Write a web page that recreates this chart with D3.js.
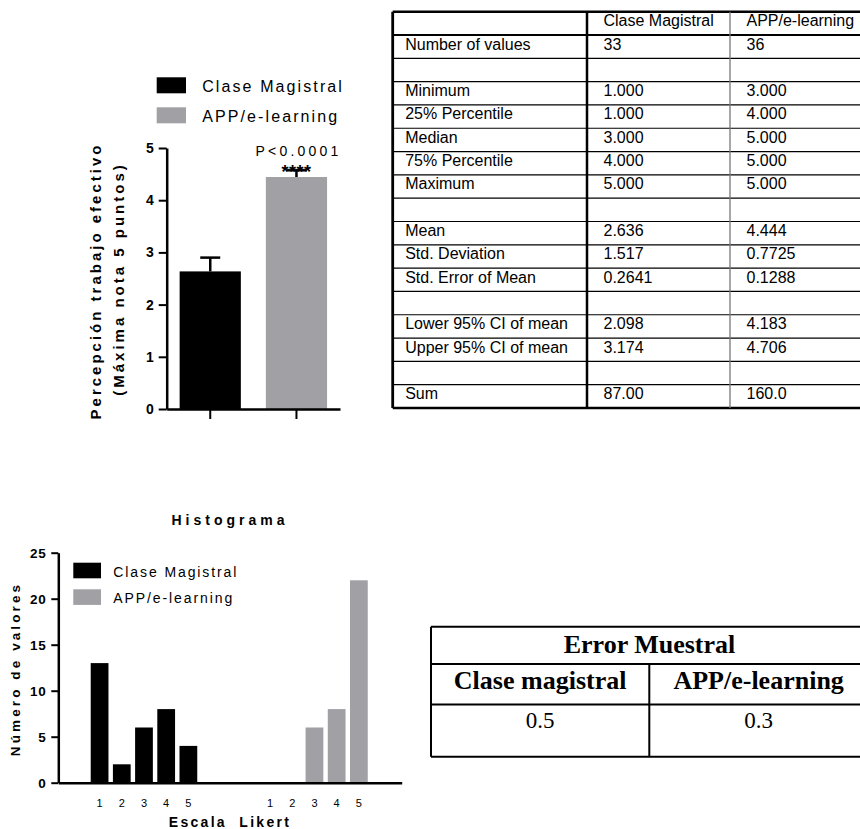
<!DOCTYPE html>
<html lang="es">
<head>
<meta charset="UTF-8">
<title>Clase Magistral vs APP/e-learning</title>
<script src="https://d3js.org/d3.v7.min.js"></script>
<style>
  body { margin: 0; background: #fff; }
  svg { display: block; }
  .sans { font-family: "Liberation Sans", Arial, sans-serif; }
  .serif { font-family: "Liberation Serif", "Times New Roman", serif; }
</style>
</head>
<body>
<div id="chart"></div>
<script>
// ---- data ----
const groups = ["Clase Magistral", "APP/e-learning"];
const means = [2.636, 4.444];
const sems = [0.2641, 0.1288];
const meanTicks = [0, 1, 2, 3, 4, 5];

const statLabels = ["Number of values", "", "Minimum", "25% Percentile", "Median", "75% Percentile", "Maximum", "",
  "Mean", "Std. Deviation", "Std. Error of Mean", "", "Lower 95% CI of mean", "Upper 95% CI of mean", "", "Sum"];
const statClase = ["33", "", "1.000", "1.000", "3.000", "4.000", "5.000", "",
  "2.636", "1.517", "0.2641", "", "2.098", "3.174", "", "87.00"];
const statApp = ["36", "", "3.000", "4.000", "5.000", "5.000", "5.000", "",
  "4.444", "0.7725", "0.1288", "", "4.183", "4.706", "", "160.0"];

const likert = [1, 2, 3, 4, 5];
const histClase = [13, 2, 6, 8, 4];
const histApp = [0, 0, 6, 8, 22];
const histTicks = [0, 5, 10, 15, 20, 25];

const errorGroups = ["Clase magistral", "APP/e-learning"];
const errorValues = ["0.5", "0.3"];

const colors = ["#000000", "#a0a0a5"];

const width = 860, height = 829;
const svg = d3.select("#chart").append("svg")
  .attr("width", width)
  .attr("height", height);

// ---- top left: mean bars with SEM ----
const x = d3.scaleBand().domain(groups).range([166.7, 340]).paddingInner(0.29).paddingOuter(0.15);
const y = d3.scaleLinear().domain([0, 5]).range([409, 148]);

svg.append("g").selectAll("rect")
  .data(groups)
  .join("rect")
  .attr("x", d => x(d))
  .attr("y", (d, i) => y(means[i]))
  .attr("width", x.bandwidth())
  .attr("height", (d, i) => y(0) - y(means[i]))
  .attr("fill", (d, i) => colors[i]);

const err = svg.append("g").attr("stroke", "#000").attr("stroke-width", 2.5);
groups.forEach((g, i) => {
  const cx = x(g) + x.bandwidth() / 2;
  err.append("line").attr("x1", cx).attr("x2", cx).attr("y1", y(means[i])).attr("y2", y(means[i] + sems[i]));
  err.append("line").attr("x1", cx - 10).attr("x2", cx + 10).attr("y1", y(means[i] + sems[i])).attr("y2", y(means[i] + sems[i]));
});

const yAx = svg.append("g")
  .attr("transform", "translate(166.7,0)")
  .call(d3.axisLeft(y).tickValues(meanTicks).tickFormat(d3.format("d")).tickSize(8).tickSizeOuter(0).tickPadding(5));
const xAx = svg.append("g")
  .attr("transform", "translate(0,409)")
  .call(d3.axisBottom(x).tickFormat("").tickSize(10).tickSizeOuter(0));
[yAx, xAx].forEach(a => {
  a.select(".domain").attr("stroke-width", 2.5);
  a.selectAll(".tick line").attr("stroke-width", 2);
});
yAx.selectAll("text").attr("class", "sans").style("font-size", "14px").style("font-weight", "bold").attr("fill", "#000");

svg.append("text").attr("class", "sans")
  .attr("x", x(groups[1]) + x.bandwidth() / 2 + 2).attr("y", 156)
  .attr("text-anchor", "middle")
  .style("font-size", "14px").style("letter-spacing", "3.2px")
  .text("P<0.0001");
svg.append("text").attr("class", "sans")
  .attr("x", x(groups[1]) + x.bandwidth() / 2).attr("y", 178)
  .attr("text-anchor", "middle")
  .style("font-size", "18px").style("font-weight", "bold").style("letter-spacing", "0.5px")
  .text("****");

svg.append("text").attr("class", "sans")
  .attr("transform", "translate(101,281) rotate(-90)")
  .attr("text-anchor", "middle")
  .style("font-size", "15px").style("font-weight", "bold").style("letter-spacing", "3px")
  .text("Percepción trabajo efectivo");
svg.append("text").attr("class", "sans")
  .attr("transform", "translate(123.5,279) rotate(-90)")
  .attr("text-anchor", "middle")
  .style("font-size", "15px").style("font-weight", "bold").style("letter-spacing", "3px")
  .text("(Máxima nota 5 puntos)");

const leg1 = svg.append("g").selectAll("g").data(groups).join("g")
  .attr("transform", (d, i) => `translate(156.7,${77.3 + i * 30})`);
leg1.append("rect").attr("width", 29.3).attr("height", 16).attr("fill", (d, i) => colors[i]);
leg1.append("text").attr("class", "sans")
  .attr("x", 45.5).attr("y", 14.5)
  .style("font-size", "16px").style("letter-spacing", "2.1px")
  .text(d => d);

// ---- top right: statistics table ----
const tLeft = 392.7, tCols = [392.7, 587, 730, 880];
const rowY = d3.scaleBand().domain(d3.range(statLabels.length + 1)).range([11.7, 408]);
const tbl = svg.append("g").attr("class", "sans");

tbl.selectAll("line.h")
  .data(d3.range(1, statLabels.length + 1))
  .join("line")
  .attr("x1", tLeft).attr("x2", width)
  .attr("y1", d => rowY(d)).attr("y2", d => rowY(d))
  .attr("stroke", "#000")
  .attr("stroke-width", d => d === 1 ? 2.2 : 1.2);
tbl.append("line").attr("x1", tLeft).attr("x2", width).attr("y1", 11.7).attr("y2", 11.7).attr("stroke", "#000").attr("stroke-width", 2.5);
tbl.append("line").attr("x1", tLeft).attr("x2", width).attr("y1", 408).attr("y2", 408).attr("stroke", "#000").attr("stroke-width", 2.5);
tbl.append("line").attr("x1", tLeft).attr("x2", tLeft).attr("y1", 11.7).attr("y2", 408).attr("stroke", "#000").attr("stroke-width", 2.8);
tbl.append("line").attr("x1", tCols[1]).attr("x2", tCols[1]).attr("y1", 11.7).attr("y2", 408).attr("stroke", "#000").attr("stroke-width", 2.5);
tbl.append("line").attr("x1", tCols[2]).attr("x2", tCols[2]).attr("y1", 11.7).attr("y2", 408).attr("stroke", "#777").attr("stroke-width", 1.3);

tbl.selectAll("text.head").data(groups).join("text")
  .attr("x", (d, i) => tCols[i + 1] + 16.5).attr("y", rowY(0) + 14.5)
  .style("font-size", "16px").text(d => d);
const cellCols = [statLabels, statClase, statApp];
cellCols.forEach((col, c) => {
  tbl.append("g").selectAll("text").data(col).join("text")
    .attr("x", c === 0 ? tLeft + 12.5 : tCols[c] + 16.5)
    .attr("y", (d, i) => rowY(i + 1) + 14.5)
    .style("font-size", "16px")
    .text(d => d);
});

// ---- bottom left: histogram ----
const xH = d3.scaleLinear().domain([0, 15.47]).range([58.3, 401.7]);
const yH = d3.scaleLinear().domain([0, 25]).range([782.7, 552.7]);
const barW = xH(0.8) - xH(0);
const groupOffset = [0.86, 8.54];
const histSeries = [histClase, histApp];

histSeries.forEach((vals, s) => {
  svg.append("g").selectAll("rect").data(vals).join("rect")
    .attr("x", (d, i) => xH(likert[i] + groupOffset[s]) - barW / 2)
    .attr("y", d => yH(d))
    .attr("width", barW)
    .attr("height", d => yH(0) - yH(d))
    .attr("fill", colors[s]);
  svg.append("g").attr("class", "sans").selectAll("text").data(likert).join("text")
    .attr("x", d => xH(d + groupOffset[s]))
    .attr("y", 807)
    .attr("text-anchor", "middle")
    .style("font-size", "11px")
    .text(d => d);
});

const yHAx = svg.append("g")
  .attr("transform", "translate(58.3,0)")
  .call(d3.axisLeft(yH).tickValues(histTicks).tickSize(7).tickSizeOuter(0).tickPadding(5));
const xHAx = svg.append("g")
  .attr("transform", "translate(0,782.7)")
  .call(d3.axisBottom(xH).tickValues([]).tickSizeOuter(0));
[yHAx, xHAx].forEach(a => {
  a.select(".domain").attr("stroke-width", 2.5);
  a.selectAll(".tick line").attr("stroke-width", 2);
});
yHAx.selectAll("text").attr("class", "sans").style("font-size", "13.5px").style("font-weight", "bold").style("letter-spacing", "0.6px").attr("fill", "#000");

svg.append("text").attr("class", "sans")
  .attr("x", 230).attr("y", 525)
  .attr("text-anchor", "middle")
  .style("font-size", "14px").style("font-weight", "bold").style("letter-spacing", "4px")
  .text("Histograma");
svg.append("text").attr("class", "sans")
  .attr("x", 230).attr("y", 827)
  .attr("text-anchor", "middle")
  .style("font-size", "14px").style("font-weight", "bold").style("letter-spacing", "2.3px")
  .style("white-space", "pre")
  .text("Escala  Likert");
svg.append("text").attr("class", "sans")
  .attr("transform", "translate(20,669) rotate(-90)")
  .attr("text-anchor", "middle")
  .style("font-size", "13.5px").style("font-weight", "bold").style("letter-spacing", "3.1px")
  .text("Número de valores");

const leg2 = svg.append("g").selectAll("g").data(groups).join("g")
  .attr("transform", (d, i) => `translate(73.3,${562.7 + i * 26.6})`);
leg2.append("rect").attr("width", 27.7).attr("height", 15.6).attr("fill", (d, i) => colors[i]);
leg2.append("text").attr("class", "sans")
  .attr("x", 40).attr("y", 14)
  .style("font-size", "14px").style("letter-spacing", "1.9px")
  .text(d => d);

// ---- bottom right: sampling error table ----
const eCols = [431, 649.3, 868];
const eRows = [626.7, 664, 704.5, 756.7];
const et = svg.append("g").attr("class", "serif");
et.selectAll("line.h").data(eRows).join("line")
  .attr("x1", eCols[0]).attr("x2", width)
  .attr("y1", d => d).attr("y2", d => d)
  .attr("stroke", "#000").attr("stroke-width", 2);
et.append("line").attr("x1", eCols[0]).attr("x2", eCols[0]).attr("y1", eRows[0]).attr("y2", eRows[3]).attr("stroke", "#000").attr("stroke-width", 2);
et.append("line").attr("x1", eCols[1]).attr("x2", eCols[1]).attr("y1", eRows[1]).attr("y2", eRows[3]).attr("stroke", "#000").attr("stroke-width", 2);

et.append("text")
  .attr("x", (eCols[0] + eCols[2]) / 2).attr("y", 652.7)
  .attr("text-anchor", "middle")
  .style("font-size", "26px").style("font-weight", "bold")
  .text("Error Muestral");
et.selectAll("text.g").data(errorGroups).join("text")
  .attr("x", (d, i) => (eCols[i] + eCols[i + 1]) / 2).attr("y", 689.3)
  .attr("text-anchor", "middle")
  .style("font-size", "26px").style("font-weight", "bold")
  .text(d => d);
et.selectAll("text.v").data(errorValues).join("text")
  .attr("x", (d, i) => (eCols[i] + eCols[i + 1]) / 2).attr("y", 728.3)
  .attr("text-anchor", "middle")
  .style("font-size", "23px")
  .text(d => d);
</script>
</body>
</html>
